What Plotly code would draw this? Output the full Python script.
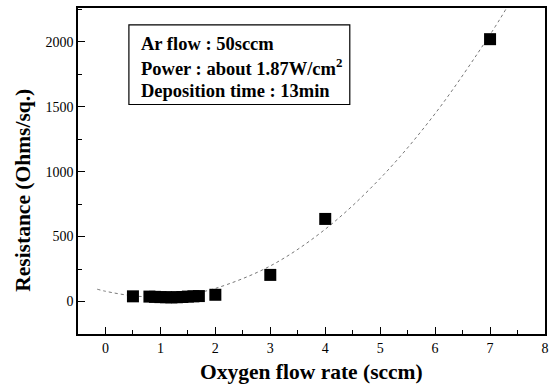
import plotly.graph_objects as go

# measured data (Oxygen flow rate in sccm, resistance in Ohms/sq.)
oxygen_flow = [0.5, 0.8, 0.9, 1.0, 1.1, 1.2, 1.3, 1.4, 1.5, 1.6, 1.7, 2.0, 3.0, 4.0, 7.0]
resistance = [40, 38, 36, 34, 33, 32, 33, 35, 38, 40, 42, 52, 205, 636, 2020]

# fitted curve
fit_x = [-0.15, 0, 0.5, 1, 1.5, 2, 3, 4, 5, 6, 7, 7.3]
fit_y = [95, 79, 44, 36, 55, 101, 274, 557, 948, 1447, 2055, 2259]

x_ticks = [0, 1, 2, 3, 4, 5, 6, 7, 8]
y_ticks = [0, 500, 1000, 1500, 2000]

info_lines = ["Ar flow : 50sccm", "Power : about 1.87W/cm<sup>2</sup>", "Deposition time : 13min"]

SERIF = "Liberation Serif, Times New Roman, serif"

fig = go.Figure()
fig.add_trace(go.Scatter(x=fit_x, y=fit_y, mode="lines", line_shape="spline",
                         line=dict(color="#777777", width=1, dash="dot"),
                         hoverinfo="skip", showlegend=False))
fig.add_trace(go.Scatter(x=oxygen_flow, y=resistance, mode="markers",
                         marker=dict(symbol="square", size=12, color="black"),
                         showlegend=False))

axis_common = dict(showline=True, linecolor="black", linewidth=1.5, mirror=True,
                   ticks="inside", ticklen=7, tickwidth=1.2, tickcolor="black",
                   showgrid=False, zeroline=False,
                   tickfont=dict(family=SERIF, size=14, color="black"))

fig.update_xaxes(range=[-0.5, 8], tickvals=x_ticks,
                 minor=dict(ticks="inside", dtick=0.5, ticklen=4, tickcolor="black", showgrid=False),
                 **axis_common)
fig.update_yaxes(range=[-250, 2260], tickvals=y_ticks,
                 minor=dict(ticks="inside", dtick=250, ticklen=4, tickcolor="black", showgrid=False),
                 **axis_common)

fig.add_shape(type="rect", xref="paper", yref="paper", x0=0.109, x1=0.582, y0=0.704, y1=0.948,
              line=dict(color="black", width=1.2), fillcolor="white", layer="below")

ys = [0.890, 0.818, 0.746]
for t, yy in zip(info_lines, ys):
    fig.add_annotation(x=0.131, y=yy, xref="paper", yref="paper", text="<b>" + t + "</b>",
                       showarrow=False, xanchor="left", yanchor="middle",
                       font=dict(family=SERIF, size=18.5, color="black"))

fig.add_annotation(x=0.5, y=-0.116, xref="paper", yref="paper",
                   text="<b>Oxygen flow rate (sccm)</b>", showarrow=False,
                   xanchor="center", yanchor="middle",
                   font=dict(family=SERIF, size=21.5, color="black"))
fig.add_annotation(x=-0.118, y=0.442, xref="paper", yref="paper",
                   text="<b>Resistance (Ohms/sq.)</b>", showarrow=False, textangle=-90,
                   xanchor="center", yanchor="middle",
                   font=dict(family=SERIF, size=21.5, color="black"))

fig.update_layout(width=559, height=388, margin=dict(l=78, r=14, t=6, b=54),
                  paper_bgcolor="white", plot_bgcolor="white")

fig.write_html("out.html")
